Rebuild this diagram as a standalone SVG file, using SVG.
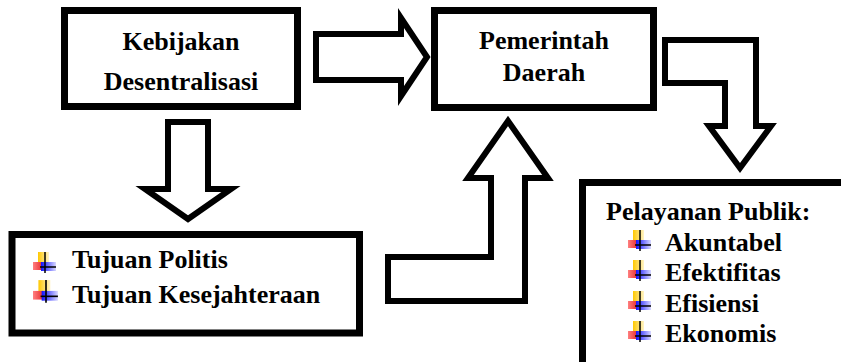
<svg xmlns="http://www.w3.org/2000/svg" width="841" height="362" viewBox="0 0 841 362">
<style>
.box{fill:#fff;stroke:#000;stroke-width:7}
.arr{fill:#fff;stroke:#000;stroke-width:6;stroke-linejoin:miter;stroke-miterlimit:10}
text{font-family:'Liberation Serif','DejaVu Serif','Times New Roman',serif;font-weight:700;font-size:26px;fill:#000}
</style>
<defs>
<linearGradient id="gy" x1="0" y1="0" x2="1" y2="0"><stop offset="0" stop-color="#FFC800"/><stop offset="1" stop-color="#FFF4C8"/></linearGradient>
<linearGradient id="gr" x1="0" y1="0" x2="1" y2="0"><stop offset="0" stop-color="#FF8080"/><stop offset="1" stop-color="#E83030"/></linearGradient>
<linearGradient id="gb" x1="0" y1="0" x2="1" y2="0"><stop offset="0" stop-color="#1010FF"/><stop offset="1" stop-color="#D8D8FF"/></linearGradient>
<symbol id="bul" viewBox="0 0 24 22" overflow="visible">
<rect x="5" y="0" width="11" height="11" fill="url(#gy)"/>
<rect x="0" y="10" width="9" height="8" fill="url(#gr)"/>
<rect x="8" y="10" width="15" height="9" fill="url(#gb)"/>
<line x1="12" y1="0" x2="12" y2="21" stroke="#000" stroke-width="1.5"/>
<line x1="7" y1="15" x2="23" y2="15" stroke="#000" stroke-width="1.5"/>
</symbol>
</defs>

<g id="connectors">
<path class="arr" d="M316,34 H401 V18 L427,57 L401,96 V80 H316 Z"/>
<path class="arr" d="M168,122 H208 V189 H231 L188,219 L145,189 H168 Z"/>
<path class="arr" d="M388,257 H491 V178 H468 L508,121 L548,178 H525 V301 H388 Z"/>
<path class="arr" d="M665,40 H756 V126 H771 L740,168 L709,126 H725 V83 H665 Z"/>
</g>

<g id="kebijakan">
<rect class="box" x="64.5" y="10.5" width="233" height="96"/>
<text font-family="Liberation Serif, serif" x="181" y="50" text-anchor="middle">Kebijakan</text>
<text font-family="Liberation Serif, serif" x="181" y="90" text-anchor="middle">Desentralisasi</text>
</g>

<g id="pemerintah">
<rect class="box" x="434.5" y="10.5" width="219" height="97"/>
<text x="544" y="49" text-anchor="middle">Pemerintah</text>
<text x="544" y="81" text-anchor="middle">Daerah</text>
</g>

<g id="tujuan">
<rect class="box" x="12" y="234.5" width="347.5" height="98.5"/>
<use href="#bul" x="33" y="252" width="24" height="22"/>
<use href="#bul" x="33" y="280" width="26" height="24"/>
<text x="72" y="268">Tujuan Politis</text>
<text x="72" y="303">Tujuan Kesejahteraan</text>
</g>

<g id="pelayanan">
<rect class="box" x="582.5" y="182.5" width="300" height="220"/>
<text x="606" y="220">Pelayanan Publik:</text>
<use href="#bul" x="628" y="230" width="24" height="22"/>
<use href="#bul" x="628" y="260" width="24" height="22"/>
<use href="#bul" x="628" y="291" width="24" height="22"/>
<use href="#bul" x="628" y="321" width="24" height="22"/>
<text x="665" y="251">Akuntabel</text>
<text x="665" y="281">Efektifitas</text>
<text x="665" y="312">Efisiensi</text>
<text x="665" y="342">Ekonomis</text>
</g>
</svg>
